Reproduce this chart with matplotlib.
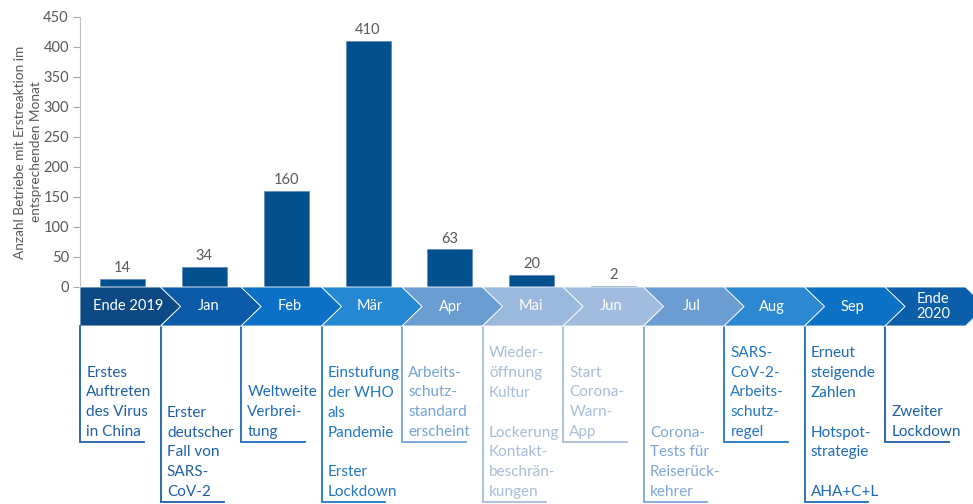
import matplotlib.pyplot as plt
from matplotlib.patches import Polygon

plt.rcParams['font.family'] = ['Lato', 'DejaVu Sans']

# data
months = ['Ende 2019', 'Jan', 'Feb', 'Mär', 'Apr', 'Mai', 'Jun', 'Jul', 'Aug', 'Sep', 'Ende\n2020']
counts = [14, 34, 160, 410, 63, 20, 2]
events = [
    'Erstes\nAuftreten\ndes Virus\nin China',
    'Erster\ndeutscher\nFall von\nSARS-\nCoV-2',
    'Weltweite\nVerbrei-\ntung',
    'Einstufung\nder WHO\nals\nPandemie\n\nErster\nLockdown',
    'Arbeits-\nschutz-\nstandard\nerscheint',
    'Wieder-\nöffnung\nKultur\n\nLockerung\nKontakt-\nbeschrän-\nkungen',
    'Start\nCorona-\nWarn-\nApp',
    'Corona-\nTests für\nReiserück-\nkehrer',
    'SARS-\nCoV-2-\nArbeits-\nschutz-\nregel',
    'Erneut\nsteigende\nZahlen\n\nHotspot-\nstrategie\n\nAHA+C+L',
    'Zweiter\nLockdown',
]

# colours
arrow_colors = ['#0d4a85', '#0b5ba8', '#0b70c6', '#2588d2', '#6a9dd2', '#9bb8dd',
                '#a2bcde', '#6b9dd3', '#2b88d1', '#0b72c6', '#0b5eaa']
text_colors = ['#1d5fa6', '#1d5fa6', '#1d6ab8', '#2278c4', '#76a2d4', '#a8bddb',
               '#a8bddb', '#7ea6d6', '#2278c4', '#1d6ab8', '#1d5fa6']
bar_color = '#03508e'
grey = '#595959'

fig = plt.figure(figsize=(9.73, 5.04), dpi=100)

# bar chart
ax = fig.add_axes([80 / 973, 217 / 504, 900 / 973, 270 / 504])
x = range(len(counts))
bars = ax.bar(x, counts, width=0.55, color=bar_color, edgecolor='#4f7fb0', linewidth=0.4)
for b, v in zip(bars, counts):
    ax.text(b.get_x() + b.get_width() / 2, v + 6, str(v), ha='center', va='bottom',
            fontsize=10.5, color=grey)
ax.set_xlim(-0.52, 10.48)
ax.set_ylim(0, 450)
ax.set_yticks(range(0, 451, 50))
ax.tick_params(axis='y', colors='#a6a6a6', labelcolor=grey, labelsize=10.5, length=5, pad=3)
ax.set_xticks([])
for s in ['top', 'right', 'bottom']:
    ax.spines[s].set_visible(False)
ax.spines['left'].set_color('#bfbfbf')
ax.set_ylabel('Anzahl Betriebe mit Erstreaktion im\nentsprechenden Monat', fontsize=9.8,
              color=grey, linespacing=1.35, labelpad=1)

# timeline below
tl = fig.add_axes([80 / 973, 0, 885.5 / 973, 217 / 504])
tl.set_xlim(0, 11)
tl.set_ylim(217, 0)
tl.axis('off')

band = 39
tip = 0.25
for i, (m, c) in enumerate(zip(months, arrow_colors)):
    notch = 0 if i == 0 else tip
    pts = [(i, 0), (i + 1, 0), (i + 1 + tip, band / 2), (i + 1, band), (i, band), (i + notch, band / 2)]
    tl.add_patch(Polygon(pts, closed=True, facecolor=c, edgecolor='white', linewidth=0.6,
                         clip_on=False, zorder=2 + i * 0.01))
    tl.text(i + 0.6, band / 2, m, ha='center', va='center', color='white', fontsize=10.5,
            linespacing=1.1, zorder=5)

    bottom = 155 if i % 2 == 0 else 215
    tc = text_colors[i]
    tl.plot([i, i, i + 0.79], [band, bottom, bottom], color=tc, linewidth=1.3,
            solid_joinstyle='miter', clip_on=False)
    tl.text(i + 0.08, bottom - 3, events[i], ha='left', va='bottom', color=tc,
            fontsize=11, linespacing=1.53)

fig.savefig('out.png', dpi=100)
